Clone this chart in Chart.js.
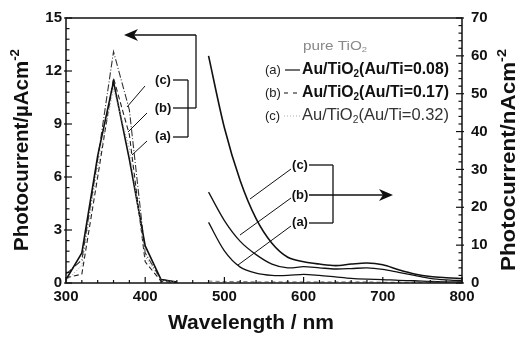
<!DOCTYPE html>
<html><head><meta charset="utf-8">
<script src="https://cdn.jsdelivr.net/npm/chart.js@4.4.1/dist/chart.umd.min.js"></script>
<style>html,body{margin:0;padding:0;background:#fff;overflow:hidden}canvas{display:block}</style>
</head><body>
<canvas id="c" width="525" height="337"></canvas>
<script>
// ---- data ----
const uvWavelengths = [300, 320, 340, 360, 380, 400, 420, 440];
const uvPure = [0.1, 1.0, 6.6, 11.0, 7.6, 1.5, 0.15, 0.05];
const uvA    = [0.2, 1.7, 7.2, 11.4, 7.0, 2.1, 0.2, 0.05];
const uvB    = [0.3, 0.5, 6.0, 11.6, 8.4, 1.2, 0.1, 0.02];
const uvC    = [0.5, 1.3, 7.0, 13.1, 9.8, 1.7, 0.2, 0.05];

const visWavelengths = [480, 500, 520, 540, 560, 580, 600, 620, 640, 660, 680, 700, 720, 740, 760, 780, 800];
const visPure = [0.5, 0.4, 0.4, 0.3, 0.3, 0.3, 0.3, 0.3, 0.3, 0.3, 0.3, 0.2, 0.2, 0.2, 0.2, 0.2, 0.2];
const visA = [16, 8.5, 4.2, 2.6, 2.0, 2.0, 2.3, 2.0, 1.6, 1.2, 1.0, 0.9, 0.7, 0.6, 0.4, 0.3, 0.3];
const visB = [24, 16.5, 11, 7.5, 5.0, 4.0, 4.3, 4.0, 3.7, 3.8, 4.0, 3.6, 2.8, 2.0, 1.2, 0.8, 0.6];
const visC = [60, 41, 27, 17, 10.5, 6.8, 5.6, 5.0, 4.6, 5.0, 5.3, 4.8, 3.5, 2.4, 1.7, 1.4, 1.2];

const xTickValues = [300, 400, 500, 600, 700, 800];
const leftTickValues = [0, 3, 6, 9, 12, 15];
const rightTickValues = [0, 10, 20, 30, 40, 50, 60, 70];

const seriesNames = ['pure TiO', 'Au/TiO', 'Au/TiO', 'Au/TiO'];
const ratioLabels = ['', '(Au/Ti=0.08)', '(Au/Ti=0.17)', '(Au/Ti=0.32)'];

// ---- helpers ----
const pts = (xs, ys) => xs.map((x, i) => ({x: x, y: ys[i]}));
const FONT = '"Liberation Sans", Arial, sans-serif';
const INK = '#111';

function drawRuns(ctx, runs, x, y, opt) {
  opt = opt || {};
  ctx.save();
  let total = 0;
  runs.forEach(r => { ctx.font = r.f; r.w = ctx.measureText(r.t).width; total += r.w; });
  const sx = opt.width ? opt.width / total : 1;
  ctx.translate(x, y);
  if (opt.rotate) ctx.rotate(opt.rotate);
  ctx.scale(sx, 1);
  let cx = opt.align === 'center' ? -total / 2 : 0;
  ctx.textBaseline = 'middle';
  ctx.textAlign = 'left';
  ctx.fillStyle = opt.color || INK;
  runs.forEach(r => { ctx.font = r.f; ctx.fillText(r.t, cx, r.dy || 0); cx += r.w; });
  ctx.restore();
}
function seg(ctx, x1, y1, x2, y2) { ctx.beginPath(); ctx.moveTo(x1, y1); ctx.lineTo(x2, y2); ctx.stroke(); }
function arrowHead(ctx, tipX, tipY, dir) {
  ctx.beginPath();
  ctx.moveTo(tipX, tipY);
  ctx.lineTo(tipX + dir * 14, tipY - 6);
  ctx.lineTo(tipX + dir * 10, tipY);
  ctx.lineTo(tipX + dir * 14, tipY + 6);
  ctx.closePath();
  ctx.fill();
}

const deco = {
  id: 'deco',
  afterDraw(chart) {
    const ctx = chart.ctx, ca = chart.chartArea;
    const xs = chart.scales.x, yl = chart.scales.y, yr = chart.scales.y2;
    ctx.save();
    ctx.strokeStyle = INK; ctx.fillStyle = INK;
    ctx.lineWidth = 1.5;
    ctx.strokeRect(ca.left, ca.top, ca.right - ca.left, ca.bottom - ca.top);
    // inward ticks
    ctx.lineWidth = 1.2;
    for (let i = 0; i < xTickValues.length; i++) {
      const v = xTickValues[i];
      seg(ctx, xs.getPixelForValue(v), ca.bottom, xs.getPixelForValue(v), ca.bottom - 6);
      if (i < xTickValues.length - 1) {
        const step = (xTickValues[i + 1] - v) / 5;
        for (let k = 1; k < 5; k++) { const px = xs.getPixelForValue(v + k * step); seg(ctx, px, ca.bottom, px, ca.bottom - 3); }
      }
    }
    for (let i = 0; i < leftTickValues.length; i++) {
      const v = leftTickValues[i];
      seg(ctx, ca.left - 2, yl.getPixelForValue(v), ca.left + 6, yl.getPixelForValue(v));
      if (i < leftTickValues.length - 1) {
        const step = (leftTickValues[i + 1] - v) / 5;
        for (let k = 1; k < 5; k++) { const py = yl.getPixelForValue(v + k * step); seg(ctx, ca.left, py, ca.left + 3.5, py); }
      }
    }
    for (let i = 0; i < rightTickValues.length; i++) {
      const v = rightTickValues[i];
      seg(ctx, ca.right + 2, yr.getPixelForValue(v), ca.right - 6, yr.getPixelForValue(v));
      if (i < rightTickValues.length - 1) {
        const step = (rightTickValues[i + 1] - v) / 5;
        for (let k = 1; k < 5; k++) { const py = yr.getPixelForValue(v + k * step); seg(ctx, ca.right, py, ca.right - 3.5, py); }
      }
    }
    // axis titles
    drawRuns(ctx, [{t: 'Photocurrent/\u00b5Acm', f: 'bold 20px ' + FONT}, {t: '-2', f: 'bold 13px ' + FONT, dy: -7}],
      22, 150, {rotate: -Math.PI / 2, align: 'center', width: 202});
    drawRuns(ctx, [{t: 'Photocurrent/nAcm', f: 'bold 20px ' + FONT}, {t: '-2', f: 'bold 13px ' + FONT, dy: -7}],
      509, 160, {rotate: -Math.PI / 2, align: 'center', width: 222});
    drawRuns(ctx, [{t: 'Wavelength / nm', f: 'bold 20px ' + FONT}], 251, 323, {align: 'center', width: 166});

    // left group annotation
    ctx.lineWidth = 1.3;
    const lf = 'bold 13px ' + FONT;
    drawRuns(ctx, [{t: '(c)', f: lf}], 163, 80, {align: 'center'});
    drawRuns(ctx, [{t: '(b)', f: lf}], 163, 108, {align: 'center'});
    drawRuns(ctx, [{t: '(a)', f: lf}], 163, 136, {align: 'center'});
    seg(ctx, 173, 80, 188, 80); seg(ctx, 173, 137, 188, 137); seg(ctx, 188, 80, 188, 137);
    seg(ctx, 173, 108, 196, 108); seg(ctx, 196, 108, 196, 35); seg(ctx, 196, 35, 133, 35);
    arrowHead(ctx, 124, 35, 1);
    ctx.lineWidth = 1;
    seg(ctx, 145, 86, 127, 107); seg(ctx, 147, 113, 128, 132); seg(ctx, 147, 141, 132, 155);

    // right group annotation
    ctx.lineWidth = 1.3;
    drawRuns(ctx, [{t: '(c)', f: lf}], 300, 165, {align: 'center'});
    drawRuns(ctx, [{t: '(b)', f: lf}], 300, 195, {align: 'center'});
    drawRuns(ctx, [{t: '(a)', f: lf}], 300, 222, {align: 'center'});
    seg(ctx, 309, 165, 333, 165); seg(ctx, 309, 223, 333, 223); seg(ctx, 333, 165, 333, 223);
    seg(ctx, 309, 195, 384, 195);
    arrowHead(ctx, 393, 195, -1);
    ctx.lineWidth = 1;
    seg(ctx, 291, 169, 250, 199); seg(ctx, 291, 198, 240, 235); seg(ctx, 291, 226, 238, 265);

    // legend
    const lab = '13px ' + FONT;
    drawRuns(ctx, [{t: seriesNames[0], f: '13px ' + FONT}, {t: '2', f: '8px ' + FONT, dy: 4}], 303, 46, {width: 64, color: '#888'});
    const rows = [70, 93, 116];
    const letters = ['(a)', '(b)', '(c)'];
    rows.forEach((ry, i) => {
      drawRuns(ctx, [{t: letters[i], f: lab}], 265, ry, {color: '#222'});
      const wgt = i === 2 ? '' : 'bold ';
      drawRuns(ctx, [{t: seriesNames[i + 1], f: wgt + '16px ' + FONT}, {t: '2', f: wgt + '10px ' + FONT, dy: 4},
        {t: ratioLabels[i + 1], f: wgt + '16px ' + FONT}], 302, ry, {width: 147, color: i === 2 ? '#333' : INK});
    });
    ctx.lineWidth = 1.2;
    seg(ctx, 285, 70, 300, 70);
    ctx.setLineDash([4, 5]); seg(ctx, 284, 93, 300, 93); ctx.setLineDash([]);
    ctx.strokeStyle = '#aaa'; ctx.setLineDash([1, 2]); seg(ctx, 284, 116, 300, 116); ctx.setLineDash([]);
    ctx.restore();
  }
};

function ds(label, xs, ys, axis, style) {
  return Object.assign({label: label, data: pts(xs, ys), yAxisID: axis, fill: false, pointRadius: 0,
    borderColor: INK, borderWidth: 1.3, tension: 0}, style);
}

new Chart(document.getElementById('c'), {
  type: 'line',
  data: {
    datasets: [
      ds('pure TiO2 UV', uvWavelengths, uvPure, 'y', {borderColor: '#888', borderWidth: 1, borderDash: [1, 2]}),
      ds('(a) UV', uvWavelengths, uvA, 'y', {borderWidth: 1.6}),
      ds('(b) UV', uvWavelengths, uvB, 'y', {borderDash: [5, 3], borderWidth: 1.1, borderColor: '#222'}),
      ds('(c) UV', uvWavelengths, uvC, 'y', {borderDash: [7, 2, 1, 2], borderWidth: 1.1, borderColor: '#333'}),
      ds('pure TiO2 vis', visWavelengths, visPure, 'y2', {borderColor: '#777', borderWidth: 1, borderDash: [4, 3], tension: 0.3}),
      ds('(a) vis', visWavelengths, visA, 'y2', {borderWidth: 1.3, tension: 0.3}),
      ds('(b) vis', visWavelengths, visB, 'y2', {borderWidth: 1.3, tension: 0.3}),
      ds('(c) vis', visWavelengths, visC, 'y2', {borderWidth: 1.6, tension: 0.3})
    ]
  },
  options: {
    responsive: false, animation: false, devicePixelRatio: 1,
    layout: {padding: {top: 14, left: 0, right: 0, bottom: 0}},
    plugins: {legend: {display: false}, tooltip: {enabled: false}},
    scales: {
      x: {
        type: 'linear', min: 300, max: 800,
        afterBuildTicks: s => { s.ticks = xTickValues.map(v => ({value: v})); },
        afterFit: s => { s.height = 54; },
        grid: {display: false, drawTicks: false}, border: {display: false},
        ticks: {padding: 5, color: INK, font: {family: FONT, size: 15, weight: 'bold'}, maxRotation: 0}
      },
      y: {
        type: 'linear', position: 'left', min: 0, max: 15,
        afterBuildTicks: s => { s.ticks = leftTickValues.map(v => ({value: v})); },
        afterFit: s => { s.width = 66; },
        grid: {display: false, drawTicks: false}, border: {display: false},
        ticks: {padding: 4, color: INK, font: {family: FONT, size: 15, weight: 'bold'}}
      },
      y2: {
        type: 'linear', position: 'right', min: 0, max: 70,
        afterBuildTicks: s => { s.ticks = rightTickValues.map(v => ({value: v})); },
        afterFit: s => { s.width = 63; },
        grid: {display: false, drawTicks: false}, border: {display: false},
        ticks: {padding: 9, color: INK, font: {family: FONT, size: 15, weight: 'bold'}}
      }
    }
  },
  plugins: [deco]
});
</script>
</body></html>
